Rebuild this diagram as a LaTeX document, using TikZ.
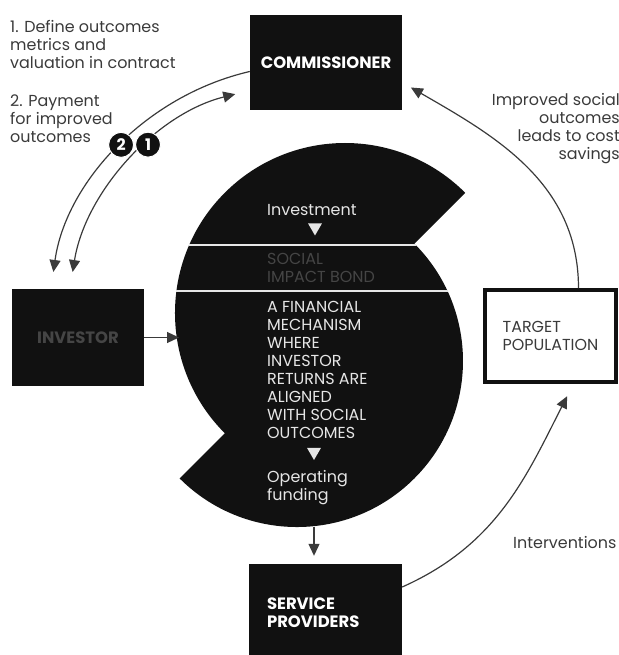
\documentclass[tikz,border=0pt]{standalone}
\usepackage{fontspec}
\setmainfont{Poppins}
\usetikzlibrary{arrows.meta}
\usetikzlibrary{shapes}
\definecolor{ink}{HTML}{111111}
\definecolor{txtgray}{HTML}{3A3A3A}
\definecolor{hidden}{HTML}{454545}
\definecolor{pale}{HTML}{E6E6E6}

\begin{document}
\begin{tikzpicture}
[x=1bp,y=1bp,%
  flowLine/.style={draw=txtgray,line width=1.2bp,-{Triangle[length=12bp,width=11bp]}},%
  blackBox/.style={fill=ink,text=white,inner sep=0pt,font=\fontsize{16.5}{18}\selectfont\bfseries},%
  badgeDecorate/.style={shape=circle,fill=ink,draw=white,line width=1bp,text=white,inner sep=0pt,minimum size=25bp,font=\bfseries},%
  pointerDecorate/.style={shape=regular polygon,regular polygon sides=3,shape border rotate=180,fill=pale,inner sep=0pt,minimum size=16bp},%
  labelText/.style={align=left,inner sep=0pt,text=txtgray}]
\fontsize{16}{18}\selectfont
\useasboundingbox (0,0) rectangle (619,655);
%% the bond: two half discs shifted along the diagonal
\fill[ink] (465.2,462.2) arc[start angle=45,end angle=225,radius=170bp]
  -- (179.6,176.6) arc[start angle=225,end angle=405,radius=166bp] -- cycle;
\draw[pale,line width=2.5bp] (189.2,410) -- (415.7,410);
\draw[pale,line width=2.5bp] (176.4,364) -- (447.5,364);
%% text inside the bond (base = last line)
\node[labelText,anchor=base west,text=pale] (invest) at (267,439.5) {Investment};
\node[pointerDecorate] (downone) at (315,427.5) {};
\node[labelText,anchor=base west,text=hidden] (sib) at (267,372.5) {SOCIAL\\IMPACT BOND};
\node[labelText,anchor=base west,text=pale] (mech) at (267,216.5)
  {A FINANCIAL\\MECHANISM\\WHERE\\INVESTOR\\RETURNS ARE\\ALIGNED\\WITH SOCIAL\\OUTCOMES};
\node[pointerDecorate] (downtwo) at (314,203) {};
\node[labelText,anchor=base west,text=pale] (opfund) at (267,154.5) {Operating\\funding};
%% parties
\node[blackBox,minimum width=152bp,minimum height=95bp] (comm) at (326,592.5) {COMMISSIONER};
\node[blackBox,minimum width=132bp,minimum height=97bp,text=hidden] (inv) at (78,317.5) {INVESTOR};
\node[draw=ink,line width=3.5bp,minimum width=131bp,minimum height=92bp,align=left,inner sep=0pt,text=txtgray] (tp) at (550.5,319) {TARGET\\POPULATION};
\node[blackBox,minimum width=153bp,minimum height=98bp,text width=117bp,align=left] (sp) at (325.5,42) {SERVICE\\PROVIDERS};
%% free labels
\node[labelText,anchor=base west] (stepone) at (10,586.5) {1. Define outcomes\\metrics and\\valuation in contract};
\node[labelText,anchor=base west] (steptwo) at (10,512.5) {2. Payment\\for improved\\outcomes};
\node[labelText,anchor=base east,align=right] (savings) at (620,495.5) {Improved social\\outcomes\\leads to cost\\savings};
\node[labelText,anchor=base west] (interv) at (513,106.5) {Interventions};
%% connectors
\coordinate (bondW) at (179,317.5);
\coordinate (bondS) at (314,128);
\draw[flowLine] (inv) -- (bondW);
\draw[flowLine,shorten >=8bp] (bondS) -- (bondS |- sp.north);
\draw[flowLine,shorten >=10bp] ([xshift=28bp]tp.north) to[out=90,in=-30] ([yshift=-20bp]comm.east);
\draw[flowLine,shorten >=14bp] ([yshift=26bp]sp.east) to[out=24,in=-117] ([xshift=23bp]tp.south);
%% payment arcs, both round the bond centre
\draw[flowLine,shorten >=17bp] ([yshift=-9bp]comm.west) to[out=193,in=82,looseness=0.93]
  node[badgeDecorate,pos=0.48] (badgetwo) {2} ([xshift=-27bp]inv.north);
\draw[flowLine,{Triangle[length=12bp,width=11bp]}-{Triangle[length=12bp,width=11bp]},shorten <=15bp,shorten >=17bp]
  ([yshift=-28bp]comm.west) to[out=194,in=81,looseness=0.93]
  node[badgeDecorate,pos=0.41] (badgeone) {1} ([xshift=-8bp]inv.north);
\end{tikzpicture}
\end{document}
